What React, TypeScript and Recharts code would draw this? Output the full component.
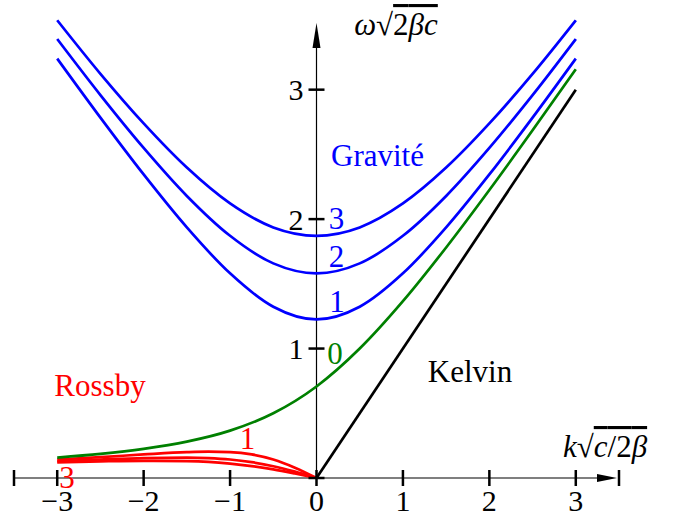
import { LineChart, Line, XAxis, YAxis, ReferenceLine, ReferenceDot } from "recharts";

const FONT = "'Liberation Serif', 'Times New Roman', serif";
const BLUE = "#0000ff";
const GREEN = "#008000";
const RED = "#ff0000";

// wavenumber k·sqrt(c/2β) for the gravity and mixed (n=0) branches
const gravityK = [-3, -2.5, -2, -1.5, -1, -0.5, 0, 0.5, 1, 1.5, 2, 2.5, 3];
const gravity1 = [3.24, 2.784, 2.345, 1.936, 1.581, 1.323, 1.225, 1.323, 1.581, 1.936, 2.345, 2.784, 3.24];
const gravity2 = [3.391, 2.958, 2.55, 2.179, 1.871, 1.658, 1.581, 1.658, 1.871, 2.179, 2.55, 2.958, 3.391];
const gravity3 = [3.536, 3.122, 2.739, 2.398, 2.121, 1.936, 1.871, 1.936, 2.121, 2.398, 2.739, 3.122, 3.536];
const yanai = [0.158, 0.186, 0.225, 0.281, 0.366, 0.5, 0.707, 1.0, 1.366, 1.781, 2.225, 2.686, 3.158];

// Rossby branches, westward only
const rossbyK = [-3, -2.5, -2, -1.5, -1.25, -1, -0.75, -0.5, -0.25, 0];
const rossby1 = [0.143, 0.161, 0.182, 0.2, 0.204, 0.2, 0.182, 0.143, 0.08, 0];
const rossby2 = [0.13, 0.143, 0.154, 0.158, 0.154, 0.143, 0.122, 0.091, 0.049, 0];
const rossby3 = [0.12, 0.128, 0.133, 0.13, 0.124, 0.111, 0.092, 0.067, 0.035, 0];

const kelvinK = [0, 3];
const kelvin = [0, 3];

const xTicks = [-3.5, -3, -2, -1, 0, 1, 2, 3, 3.5];
const xTickLabels = ["", "−3", "−2", "−1", "0", "1", "2", "3", ""];
const yTicks = [0, 1, 2, 3];
const yTickLabels = ["", "1", "2", "3"];

const labels = [
  { k: 0.706, w: 2.41, text: "Gravité", color: BLUE, anchor: "middle" },
  { k: 0.231, w: 1.924, text: "3", color: BLUE, anchor: "middle" },
  { k: 0.23, w: 1.63, text: "2", color: BLUE, anchor: "middle" },
  { k: 0.237, w: 1.282, text: "1", color: BLUE, anchor: "middle" },
  { k: 0.214, w: 0.881, text: "0", color: GREEN, anchor: "middle" },
  { k: 1.776, w: 0.738, text: "Kelvin", color: "#000", anchor: "middle" },
  { k: -2.505, w: 0.633, text: "Rossby", color: RED, anchor: "middle" },
  { k: -0.798, w: 0.224, text: "1", color: RED, anchor: "middle" },
  { k: -2.887, w: -0.077, text: "3", color: RED, anchor: "middle" },
];

const toPoints = (ks: number[], ws: number[]) => ks.map((k, i) => ({ k, w: ws[i] }));

const ArrowLine = ({ x1, y1, x2, y2, head, half }: any) => {
  const len = Math.hypot(x2 - x1, y2 - y1);
  const ux = (x2 - x1) / len;
  const uy = (y2 - y1) / len;
  const bx = x2 - ux * head;
  const by = y2 - uy * head;
  return (
    <g>
      <line x1={x1} y1={y1} x2={bx} y2={by} stroke="#000" strokeWidth={1.2} />
      <polygon
        points={`${x2},${y2} ${bx - uy * half},${by + ux * half} ${bx + uy * half},${by - ux * half}`}
        fill="#000"
      />
    </g>
  );
};

const XTick = ({ x, y, payload }: any) => {
  const label = xTickLabels[xTicks.indexOf(payload.value)];
  return (
    <g>
      <line x1={x} y1={y - 8} x2={x} y2={y + 8} stroke="#000" strokeWidth={2.5} />
      {label && (
        <text x={x} y={y + 33} textAnchor="middle" fontFamily={FONT} fontSize={30} fill="#000">
          {label}
        </text>
      )}
    </g>
  );
};

const YTick = ({ cx, cy, label }: any) => (
  <g>
    <line x1={cx - 8} y1={cy} x2={cx + 8} y2={cy} stroke="#000" strokeWidth={2.5} />
    {label && (
      <text x={cx - 13} y={cy + 10.5} textAnchor="end" fontFamily={FONT} fontSize={30} fill="#000">
        {label}
      </text>
    )}
  </g>
);

const curve = (data: any[], color: string, type: any = "monotone") => (
  <Line
    data={data}
    dataKey="w"
    type={type}
    stroke={color}
    strokeWidth={2.7}
    dot={false}
    activeDot={false}
    isAnimationActive={false}
  />
);

export default function App() {
  return (
    <div style={{ position: "absolute", left: 0, top: 0, background: "#fff" }}>
      <LineChart width={675} height={515} margin={{ top: 12, right: 56, bottom: 0, left: 14 }}>
        <XAxis
          type="number"
          dataKey="k"
          domain={[-3.5, 3.5]}
          ticks={xTicks}
          interval={0}
          axisLine={false}
          tickLine={false}
          tickSize={0}
          tickMargin={0}
          height={37}
          tick={<XTick />}
          allowDataOverflow
        />
        <YAxis type="number" domain={[0, 3.6]} hide allowDataOverflow />

        <ReferenceLine
          segment={[{ x: -3.5, y: 0 }, { x: 3.477, y: 0 }]}
          shape={(p: any) => <ArrowLine {...p} head={20} half={4} />}
        />
        <ReferenceLine
          segment={[{ x: 0, y: 0 }, { x: 0, y: 3.515 }]}
          shape={(p: any) => <ArrowLine {...p} head={25} half={4} />}
        />
        {yTicks.map((v, i) => (
          <ReferenceDot
            key={`yt-${v}`}
            x={0}
            y={v}
            r={0}
            ifOverflow="visible"
            shape={(p: any) => <YTick {...p} label={yTickLabels[i]} />}
          />
        ))}

        {curve(toPoints(rossbyK, rossby3), RED)}
        {curve(toPoints(rossbyK, rossby2), RED)}
        {curve(toPoints(rossbyK, rossby1), RED)}
        {curve(toPoints(gravityK, yanai), GREEN)}
        {curve(toPoints(kelvinK, kelvin), "#000", "linear")}
        {curve(toPoints(gravityK, gravity1), BLUE)}
        {curve(toPoints(gravityK, gravity2), BLUE)}
        {curve(toPoints(gravityK, gravity3), BLUE)}

        {labels.map((l, i) => (
          <ReferenceDot
            key={`lb-${i}`}
            x={l.k}
            y={l.w}
            r={0}
            ifOverflow="visible"
            shape={(p: any) => (
              <text x={p.cx} y={p.cy} textAnchor={l.anchor} fontFamily={FONT} fontSize={31} fill={l.color}>
                {l.text}
              </text>
            )}
          />
        ))}

        {/* axis titles */}
        <ReferenceDot
          x={0.92}
          y={3.422}
          r={0}
          ifOverflow="visible"
          shape={(p: any) => (
            <text x={p.cx} y={p.cy} textAnchor="middle" fontFamily={FONT} fontSize={31} fill="#000">
              <tspan fontStyle="italic">ω</tspan>
              <tspan>√</tspan>
              <tspan style={{ textDecoration: "overline" }}>
                2<tspan fontStyle="italic">βc</tspan>
              </tspan>
            </text>
          )}
        />
        <ReferenceDot
          x={2.852}
          y={0.162}
          r={0}
          ifOverflow="visible"
          shape={(p: any) => (
            <text x={p.cx} y={p.cy} textAnchor="start" fontFamily={FONT} fontSize={31} fill="#000">
              <tspan fontStyle="italic">k</tspan>
              <tspan>√</tspan>
              <tspan style={{ textDecoration: "overline" }}>
                <tspan fontStyle="italic">c</tspan>/2<tspan fontStyle="italic">β</tspan>
              </tspan>
            </text>
          )}
        />
      </LineChart>
    </div>
  );
}
